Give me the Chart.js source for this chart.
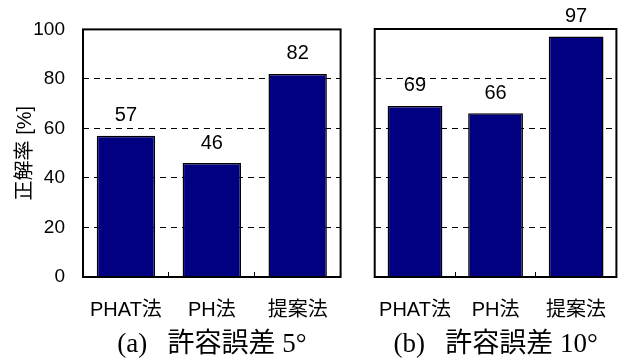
<!DOCTYPE html>
<html>
<head>
<meta charset="utf-8">
<script src="https://cdn.jsdelivr.net/npm/chart.js@4"></script>
<style>
  body { margin: 0; background: #fff; }
  canvas { position: absolute; top: 0; }
  #chart-a { left: 0; }
  #chart-b { left: 354px; }
</style>
</head>
<body>
<canvas id="chart-a" width="354" height="363"></canvas>
<canvas id="chart-b" width="276" height="363"></canvas>
<script>
var categories = ['PHAT法', 'PH法', '提案法']
var accuracy5 = [57, 46, 82]
var accuracy10 = [69, 66, 97]
var captionA = '(a)   許容誤差 5°'
var captionB = '(b)   許容誤差 10°'
var yTitle = '正解率 [%]'

var SANS = '"Liberation Sans", "Noto Sans CJK JP", sans-serif'
var SERIF = '"Liberation Serif", "Noto Sans CJK JP", serif'

Chart.defaults.font.family = SANS
Chart.defaults.font.size = 20
Chart.defaults.color = '#000'

// black frame around the plot area
var framePlugin = {
  id: 'frame',
  afterDraw(chart) {
    var a = chart.chartArea
    var c = chart.ctx
    c.save()
    c.strokeStyle = '#000'
    c.lineWidth = 2
    c.strokeRect(a.left, a.top, a.right - a.left, a.bottom - a.top)
    c.restore()
  },
}

// value above each bar
var valuePlugin = {
  id: 'values',
  afterDatasetsDraw(chart) {
    var c = chart.ctx
    var ds = chart.data.datasets[0]
    c.save()
    c.font = '20px ' + SANS
    c.fillStyle = '#000'
    c.textAlign = 'center'
    c.textBaseline = 'middle'
    chart.getDatasetMeta(0).data.forEach(function (bar, i) {
      c.fillText(String(ds.data[i]), bar.x, bar.y - 20)
    })
    c.restore()
  },
}

function makeChart(id, values, caption, withYAxis) {
  var ctx = document.getElementById(id).getContext('2d')
  return new Chart(ctx, {
    type: 'bar',
    data: {
      labels: categories,
      datasets: [
        {
          data: values,
          backgroundColor: '#000080',
          borderColor: '#000',
          borderWidth: 1.5,
          categoryPercentage: 1,
          barPercentage: 0.68,
        },
      ],
    },
    options: {
      responsive: false,
      animation: false,
      layout: {
        padding: withYAxis
          ? { left: 0, right: 2, top: 29, bottom: 0 }
          : { left: 3, right: 5, top: 29, bottom: 0 },
      },
      plugins: {
        legend: { display: false },
        tooltip: { enabled: false },
      },
      scales: {
        y: {
          min: 0,
          max: 100,
          afterFit: function (scale) {
            scale.width = withYAxis ? 83 : 0
          },
          border: { display: false, dash: [6, 5] },
          grid: {
            color: '#000',
            lineWidth: 1,
            drawTicks: false,
          },
          ticks: {
            display: withYAxis,
            stepSize: 20,
            padding: 18,
            font: { size: 19 },
          },
          title: {
            display: withYAxis,
            text: yTitle,
            font: { size: 20 },
            padding: { top: 13, bottom: 0 },
          },
        },
        x: {
          afterFit: function (scale) {
            scale.height = 86
          },
          border: { display: false },
          grid: {
            offset: true,
            color: '#000',
            lineWidth: 1,
            drawOnChartArea: false,
            drawTicks: true,
            tickLength: -5,
          },
          ticks: {
            padding: 26,
            font: { size: 20 },
          },
          title: {
            display: true,
            text: caption,
            font: { family: SERIF, size: 27 },
            padding: { top: 0, bottom: 2 },
          },
        },
      },
    },
    plugins: [framePlugin, valuePlugin],
  })
}

var chartA = makeChart('chart-a', accuracy5, captionA, true)
var chartB = makeChart('chart-b', accuracy10, captionB, false)
</script>
</body>
</html>
